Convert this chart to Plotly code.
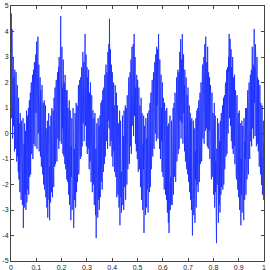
import numpy as np
import plotly.graph_objects as go

# Signal samples (800 evenly spaced samples over t = 0..1)
signal = [
    3.2, 4.7, 0.6, 4.1,
    # period A
    2.6, -0.2, 1.8, 3.0, 0.3, 2.2, 1.4, -0.7, 2.5, 0.9, -0.6, 1.9, 2.4, 0.1, -1.1, 1.3,
    1.9, -0.9, 0.6, -1.5, 1.4, -1.8, 0.4, -1.2, -2.3, 0.8, 0.2, -1.9, -2.6, 0.5, -1.4, 0.3,
    -2.8, -0.2, 0.6, -3.7, -2.1, -0.4, -2.9, 0.4, -1.6, -2.4, 0.1, -3.0, -1.2, 0.9, -2.7, -0.1,
    0.7, -2.2, -1.5, 1.0, -2.4, 0.6, 1.3, -1.7, -0.9, 1.6, -1.6, 1.1, 2.0, -0.8, -0.6, 1.8,
    2.3, -1.0, 0.2, 2.5, -0.4, 1.7, 2.8, 0.3, -0.5, 2.1, 3.1, 0.8,
    # period B
    1.6, 3.6, -0.6, 2.4, 1.1, 3.8, 0.0, 2.2, 2.7, -0.7, 1.5, -0.3, 2.2, -0.9, 1.7, -0.5,
    -1.3, 1.5, 1.9, -0.7, -1.6, 0.9, 1.2, -2.0, -0.6, 1.3, -2.2, 0.4, -1.0, 1.1, -2.5, 0.2,
    -0.3, -2.9, -1.8, 0.5, -3.3, -0.7, -2.2, 0.8, -2.6, -1.3, -3.4, 0.3, -2.0, -2.7, 0.7, -0.9,
    -2.3, 1.0, -1.8, -2.5, 0.2, 0.9, -1.4, -2.1, 1.4, 0.5, -1.3, 1.8, -1.2, -0.9, 1.6, 2.1,
    -0.4, -1.1, 1.9, 2.4, -0.2, 0.5, 2.6, -0.6, 3.0, 1.9, -0.3, 2.9, 0.6,
    # period C
    4.6, 1.3, -0.4, 2.7, 3.4, 0.2, 1.8, -0.8, 2.9, 0.4, -0.9, 2.0, 1.6, -1.2, 2.3, -0.1,
    -1.4, 1.7, 1.2, -1.8, 1.7, -0.6, -1.9, 1.0, 0.6, -2.4, -1.2, 1.3, -2.8, 0.1, 0.9, -2.0,
    -3.4, -0.5, -1.7, 0.6, -3.0, -0.1, -2.3, 1.0, 0.2, -3.7, -1.9, -0.6, -2.6, 0.8, 0.4, -2.9,
    -1.6, 1.2, -2.3, 0.5, 1.1, -1.9, -1.0, 1.5, 1.9, -1.6, -1.3, 1.4, 2.1, -0.7, -1.0, 2.2,
    1.5, -0.9, 2.6, 0.0, -0.5, 2.3, 3.2, 0.4, 1.1, 2.8, -0.3, 3.7,
    # period D
    2.4, 3.9, 0.3, 2.0, 3.1, -0.5, 1.7, 2.6, -0.8, 2.2, 1.4, -0.6, 2.5, -0.2, -1.4, 1.6,
    0.9, -1.1, 2.0, -0.5, -1.9, 0.8, 1.5, -1.4, -2.3, 0.4, 0.9, -2.0, -1.1, 0.6, -2.8, -0.3,
    0.8, -2.4, -3.2, -0.6, -4.1, -1.8, 0.4, -2.7, -0.9, -3.3, 0.6, -1.4, -2.6, 0.3, -3.0, -1.8,
    0.7, -2.5, -0.1, 1.2, -1.9, -0.8, 1.3, -2.2, 0.9, 1.7, -1.1, -1.5, 1.8, 0.6, -1.2, 2.3,
    -0.6, -0.9, 1.9, 2.7, 0.2, -0.3, 2.4, 1.6, -0.6, 3.2, 0.5, 1.8, 3.5,
    # period E
    0.2, 4.5, 2.1, -0.5, 3.3, 1.4, -0.3, 2.7, 1.9, -0.9, 2.4, 0.1, -1.3, 1.7, 2.0, -0.7,
    1.1, -1.5, -0.8, 1.9, 1.3, -1.7, -0.4, 1.6, -2.5, 0.3, 1.1, -1.6, -2.4, 0.4, -0.2, -2.9,
    -1.9, 0.9, -3.6, -0.4, 0.5, -2.5, -1.5, -3.1, -0.3, -2.2, 0.7, -2.8, -2.0, -0.1, -3.0, 0.9,
    0.2, -2.1, -1.6, 1.1, -2.6, 0.4, 1.0, -1.3, -2.0, 1.5, 0.8, -1.4, -1.0, 1.9, 2.2, -0.3,
    -1.2, 1.4, 2.4, -0.5, 0.6, 2.9, -0.8, 2.2, 3.4, 0.3, 1.2, 2.6,
    # period F
    3.5, -0.1, 2.2, 3.9, 0.7, 2.6, 3.0, -0.4, 1.8, 0.2, -0.7, 2.3, 1.4, -1.0, 2.1, -0.4,
    -1.5, 1.3, 1.8, -0.9, -1.4, 1.1, 0.6, -2.1, -1.0, 1.4, -2.6, 0.2, 0.8, -1.9, -3.0, -0.4,
    -1.4, 0.7, -3.9, -1.2, 0.3, -2.6, -2.0, -3.2, 0.6, -1.5, -2.9, -0.2, -2.2, 0.8, -0.5, -3.1,
    -2.0, 0.6, 0.9, -2.3, -1.5, 1.2, -2.1, 0.3, 1.6, -1.4, -1.1, 1.5, 2.1, -0.8, -0.9, 1.6,
    2.4, -0.4, -0.6, 2.0, 2.8, 0.5, 0.0, 3.1, 2.3, -0.3, 3.4, 1.1,
    # period G
    1.5, 3.3, -0.2, 2.5, 3.9, 0.9, 2.2, -0.6, 2.9, 0.3, -1.0, 1.8, 2.3, -0.3, 1.0, -1.5,
    2.0, -0.6, -1.7, 1.4, 0.9, -1.5, -2.2, 1.2, 0.5, -1.8, -2.4, 0.9, -0.5, -2.6, 1.0, -2.1,
    -3.1, 0.3, -1.9, -3.5, 0.4, -3.9, -1.3, -2.4, 0.7, -3.0, -1.1, -1.7, -2.8, 0.5, -2.3, -2.8,
    -0.4, -1.6, 1.0, -2.4, 0.3, 1.2, -1.7, -1.3, 1.6, 0.9, -1.9, -0.7, 1.7, 2.2, -1.1, -0.3,
    1.9, 2.5, -0.8, 0.9, 2.4, -0.6, 2.7, 3.2, 0.5, 1.3, 3.7, -0.2, 2.4,
    # period H
    2.9, 0.4, 3.9, 1.6, -0.4, 2.6, 3.1, 0.8, 1.9, -0.7, 2.5, 0.0, -1.1, 1.8, 2.2, -0.6,
    -1.4, 1.5, 1.0, -1.6, 1.8, -0.8, -1.9, 0.9, 1.1, -2.3, -0.9, 0.8, -2.6, 0.5, -1.3, -3.0,
    0.6, -2.2, -4.0, -0.8, -2.3, 0.5, -3.2, -1.4, 0.2, -2.6, -3.5, -0.7, -1.8, 0.6, -2.9, -0.2,
    0.9, -2.0, -1.4, 1.0, -2.3, 0.7, 1.3, -1.5, -1.9, 0.9, 1.6, -1.2, -0.5, 2.0, 1.5, -1.1,
    -0.4, 2.3, 2.7, -0.2, 0.6, 2.1, 3.0, -0.4, 1.2, 3.5, 2.6, 0.1,
    # period I
    3.8, 1.0, 0.2, 2.8, 2.3, -0.5, 3.4, 1.5, -0.6, 2.4, 1.8, 0.1, 2.2, -1.0, -0.3, 1.9,
    1.4, -1.3, -1.8, 1.2, 1.6, -0.5, -1.7, 0.8, 0.3, -2.4, -1.4, 1.2, -2.9, 0.2, 0.7, -2.3,
    -1.1, -3.3, -4.3, -0.6, -2.0, 0.6, -3.0, -1.2, -3.5, 0.4, -2.2, -2.8, -0.3, -3.1, 0.5, -1.3,
    -2.4, 0.8, -2.1, -1.8, 0.6, 1.1, -2.2, -1.2, 1.4, -2.0, 0.7, 1.5, -1.4, -0.8, 1.9, 2.0,
    -0.9, 0.3, 2.5, -0.8, 2.0, 2.6, 0.2, 0.0, 3.0, 2.4, 3.9, 0.6, 2.2,
    # period J
    3.7, 0.3, 2.1, 3.3, -0.3, 2.6, 1.9, -0.6, 3.0, 1.1, -0.8, 2.2, 1.6, -0.5, 2.3, -1.2,
    -0.4, 1.7, 1.4, -1.5, -1.8, 1.0, 1.5, -1.1, -2.2, 0.5, 0.8, -2.5, -1.5, 0.9, -3.0, -0.1,
    0.4, -2.5, -3.6, -1.0, -2.4, 0.5, -3.1, -0.5, 0.3, -2.8, -1.6, -3.4, 0.6, -2.1, -2.6, -0.3,
    -1.0, 1.0, -2.4, 0.1, 1.0, -1.8, -1.4, 1.5, 1.7, -1.3, -1.6, 1.2, 2.0, -0.6, -1.0, 1.7,
    2.3, -0.3, 0.4, 2.5, -0.5, 2.8, 3.4, 0.2, 1.3, 2.7, -0.2, 3.1,
    # period K
    4.1, 1.2, 2.6, -0.1, 3.5, 0.8, 2.4, -0.5, 1.6, 3.0, -0.4, 2.2, 1.8, -0.7, 2.1, -0.2,
    -1.3, 1.5, 1.9, -0.6, -1.6, 1.2, 0.7, -2.0, -0.9, 1.1, -2.4, 0.3, -1.3, 0.5, -2.6, -0.4,
]

x_ticks = [0, 0.1, 0.2, 0.3, 0.4, 0.5, 0.6, 0.7, 0.8, 0.9, 1]
x_labels = ["0", "0.1", "0.2", "0.3", "0.4", "0.5", "0.6", "0.7", "0.8", "0.9", "1"]
y_ticks = [-5, -4, -3, -2, -1, 0, 1, 2, 3, 4, 5]
y_labels = ["-5", "-4", "-3", "-2", "-1", "0", "1", "2", "3", "4", "5"]

n = len(signal)
t = np.arange(n) / (n - 1)

fig = go.Figure()
fig.add_trace(go.Scatter(
    x=t, y=signal, mode="lines",
    line=dict(color="rgb(20,40,255)", width=0.8),
    hoverinfo="skip",
))

axis_common = dict(
    showgrid=False, zeroline=False, automargin=False,
    showline=True, linecolor="#444", linewidth=1, mirror="ticks",
    ticks="inside", ticklen=3, tickcolor="#444", tickwidth=1,
    ticklabelstandoff=0, ticklabeloverflow="allow",
    tickfont=dict(family="Liberation Sans", size=7, color="#222"),
)

fig.update_layout(
    width=270, height=270,
    margin=dict(l=11, r=6, t=6, b=9, autoexpand=False),
    paper_bgcolor="white", plot_bgcolor="white",
    showlegend=False,
    xaxis=dict(range=[0, 1], tickvals=x_ticks, ticktext=x_labels, **axis_common),
    yaxis=dict(range=[-5, 5], tickvals=y_ticks, ticktext=y_labels, **axis_common),
)

fig.write_html("out.html", config={"displayModeBar": False},
               post_script="document.body.style.margin='0';")
